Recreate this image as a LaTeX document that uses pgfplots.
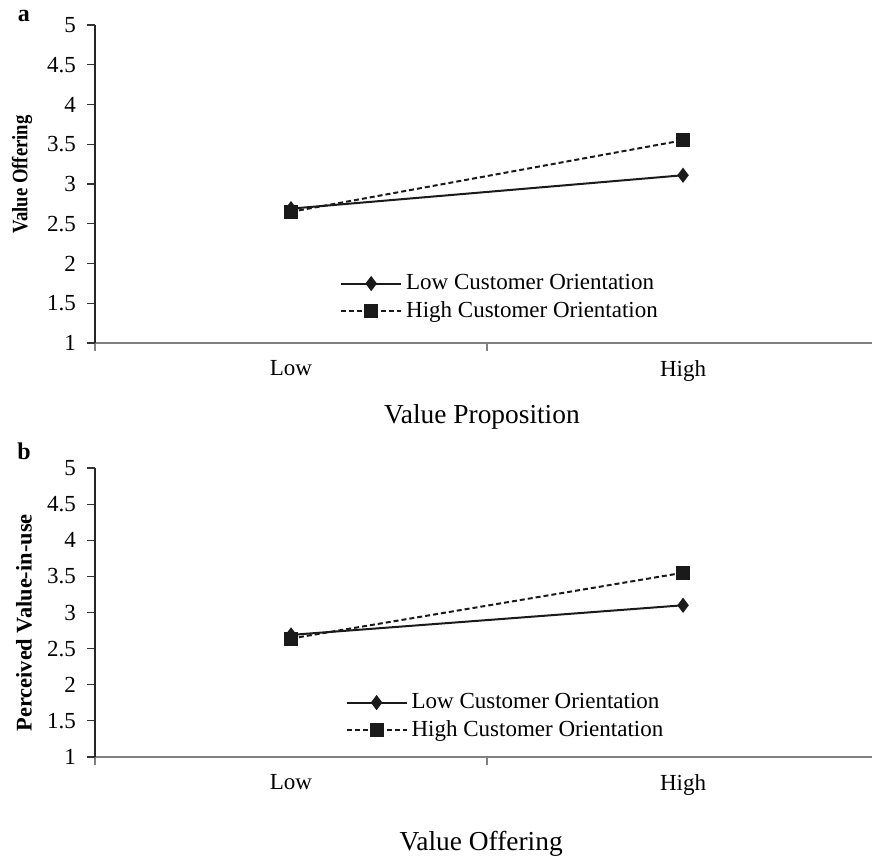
\documentclass[border=0pt]{standalone}
\usepackage{fontspec}
\setmainfont{Liberation Serif}
\usepackage{graphicx}
\usepackage{pgfplots}
\pgfplotsset{compat=1.18}
\definecolor{ink}{HTML}{1A1A1A}
\definecolor{axgray}{HTML}{808080}
\pgfplotsset{
  panel/.style={
    scale only axis,
    width=388.5pt,
    xmin=0, xmax=1.982,
    ymin=1, ymax=5,
    axis x line*=bottom,
    axis y line*=left,
    x axis line style={axgray, line width=1.2pt, -},
    y axis line style={black!85, line width=0.7pt, -},
    xtick={0,1},
    xticklabels={},
    ytick={1,1.5,2,2.5,3,3.5,4,4.5,5},
    yticklabels={1,1.5,2,2.5,3,3.5,4,4.5,5},
    tick align=outside,
    major tick length=4pt,
    tick style={black!80, line width=0.6pt},
    x tick style={axgray, line width=0.6pt},
    extra x ticks={0.5,1.5},
    extra x tick labels={Low,High},
    extra x tick style={major tick length=0pt, tick label style={yshift=-5pt}},
    tick label style={font=\fontsize{11.5}{13.8}\selectfont},
    /pgf/number format/assume math mode=true,
    yticklabel style={xshift=-2pt},
    legend cell align=left,
    legend style={draw=none, fill=none, inner sep=0pt,
      font=\fontsize{11.5}{13.8}\selectfont, row sep=0.5pt,
      /tikz/every even column/.append style={column sep=2pt}},
    legend image code/.code={
      \draw[mark repeat=2,mark phase=2,#1] plot coordinates {(0pt,0pt) (15pt,0pt) (30pt,0pt)};},
    clip=false,
  },
  lowco/.style={ink, line width=1pt, mark=diamond*, mark size=3pt, mark options={solid, fill=ink}},
  highco/.style={ink, line width=1pt, dash pattern=on 2.5pt off 1.5pt, mark=square*, mark size=3pt, mark options={solid, fill=ink}},
}
\begin{document}
\begin{tikzpicture}
\useasboundingbox (0,0) rectangle (436pt,428pt);
% Panel a
\begin{axis}[panel, at={(47.5pt,256.5pt)}, anchor=south west, height=159pt,
  ylabel={\scalebox{0.85}[1]{\fontsize{11}{13}\selectfont\bfseries Value Offering}},
  ylabel style={at={(rel axis cs:-0.094,0.53)}, anchor=center, rotate=0},
  xlabel={\fontsize{13.7}{16}\selectfont Value Proposition},
  xlabel style={at={(rel axis cs:0.498,-0.233)}, anchor=center},
  legend style={at={(rel axis cs:0.315,0.143)}, anchor=west}]
\addplot[lowco] coordinates {(0.5,2.69) (1.5,3.11)};
\addlegendentry{Low Customer Orientation}
\addplot[highco] coordinates {(0.5,2.65) (1.5,3.55)};
\addlegendentry{High Customer Orientation}
\end{axis}
% Panel b
\begin{axis}[panel, at={(47.5pt,49.5pt)}, anchor=south west, height=144.5pt,
  ylabel={\fontsize{11.2}{13}\selectfont\bfseries Perceived Value-in-use},
  ylabel style={at={(rel axis cs:-0.0914,0.464)}, anchor=center, rotate=0},
  xlabel={\fontsize{13.7}{16}\selectfont Value Offering},
  xlabel style={at={(rel axis cs:0.497,-0.300)}, anchor=center},
  legend style={at={(rel axis cs:0.322,0.14)}, anchor=west}]
\addplot[lowco] coordinates {(0.5,2.69) (1.5,3.10)};
\addlegendentry{Low Customer Orientation}
\addplot[highco] coordinates {(0.5,2.64) (1.5,3.55)};
\addlegendentry{High Customer Orientation}
\end{axis}
\node[font=\fontsize{12}{14}\selectfont\bfseries] at (12pt,420pt) {a};
\node[font=\fontsize{12}{14}\selectfont\bfseries] at (12pt,202.5pt) {b};
\end{tikzpicture}
\end{document}
